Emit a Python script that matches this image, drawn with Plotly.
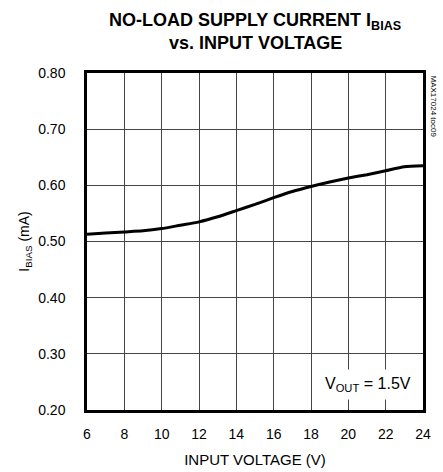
import plotly.graph_objects as go

# Data
input_voltage = [6, 7, 8, 9, 10, 11, 12, 13, 14, 15, 16, 17, 18, 19, 20, 21, 22, 23, 24]
i_bias_ma = [0.513, 0.515, 0.517, 0.519, 0.523, 0.529, 0.535, 0.544, 0.555, 0.566,
             0.578, 0.589, 0.598, 0.606, 0.613, 0.619, 0.626, 0.633, 0.635]
x_ticks = [6, 8, 10, 12, 14, 16, 18, 20, 22, 24]
y_ticks = [0.20, 0.30, 0.40, 0.50, 0.60, 0.70, 0.80]

FONT = "Liberation Sans, Arial, sans-serif"

fig = go.Figure()
fig.add_trace(go.Scatter(
    x=input_voltage, y=i_bias_ma, mode="lines",
    line=dict(color="black", width=3, shape="spline", smoothing=0.6),
    showlegend=False, hoverinfo="skip",
))

fig.update_layout(
    width=443, height=472,
    margin=dict(l=87, r=20, t=73, b=62),
    paper_bgcolor="white", plot_bgcolor="white",
    font=dict(family=FONT, color="black", size=14),
    xaxis=dict(
        range=[6, 24], tickvals=x_ticks, ticktext=[str(v) for v in x_ticks],
        showgrid=True, gridcolor="#444", gridwidth=1,
        showline=True, linecolor="black", linewidth=2.5, mirror=True,
        ticks="", zeroline=False, ticklabelstandoff=9, automargin=False,
        title=dict(text="INPUT VOLTAGE (V)", font=dict(size=15), standoff=14),
        tickfont=dict(size=14),
    ),
    yaxis=dict(
        range=[0.20, 0.80], tickvals=y_ticks, ticktext=[f"{v:.2f}" for v in y_ticks],
        showgrid=True, gridcolor="#444", gridwidth=1,
        showline=True, linecolor="black", linewidth=2.5, mirror=True,
        ticks="", zeroline=False, ticklabelstandoff=16, automargin=False,
        title=dict(text="I<sub>BIAS</sub> (mA)", font=dict(size=14), standoff=6),
        tickfont=dict(size=14),
    ),
)

# Title lines
fig.add_annotation(
    x=0.5, y=1, xref="paper", yref="paper", xanchor="center", yanchor="middle",
    yshift=52, showarrow=False,
    text="<b>NO-LOAD SUPPLY CURRENT I<sub>BIAS</sub></b>",
    font=dict(family=FONT, size=18, color="black"),
)
fig.add_annotation(
    x=0.5, y=1, xref="paper", yref="paper", xanchor="center", yanchor="middle",
    yshift=30, showarrow=False,
    text="<b>vs. INPUT VOLTAGE</b>",
    font=dict(family=FONT, size=18, color="black"),
)

fig.add_annotation(
    x=21.05, y=0.245, xref="x", yref="y",
    text="V<sub>OUT</sub> = 1.5V", showarrow=False,
    font=dict(family=FONT, size=16, color="black"),
    bgcolor="white", borderpad=5,
)

fig.add_annotation(
    x=1.0, y=1.0, xref="paper", yref="paper",
    xanchor="left", yanchor="top", xshift=4,
    text="MAX17024 toc09", showarrow=False, textangle=90,
    font=dict(family=FONT, size=8, color="black"),
)

fig.write_html(
    "out.html",
    config={"displayModeBar": False},
    post_script="document.body.style.margin='0';document.body.style.overflow='hidden';",
)
